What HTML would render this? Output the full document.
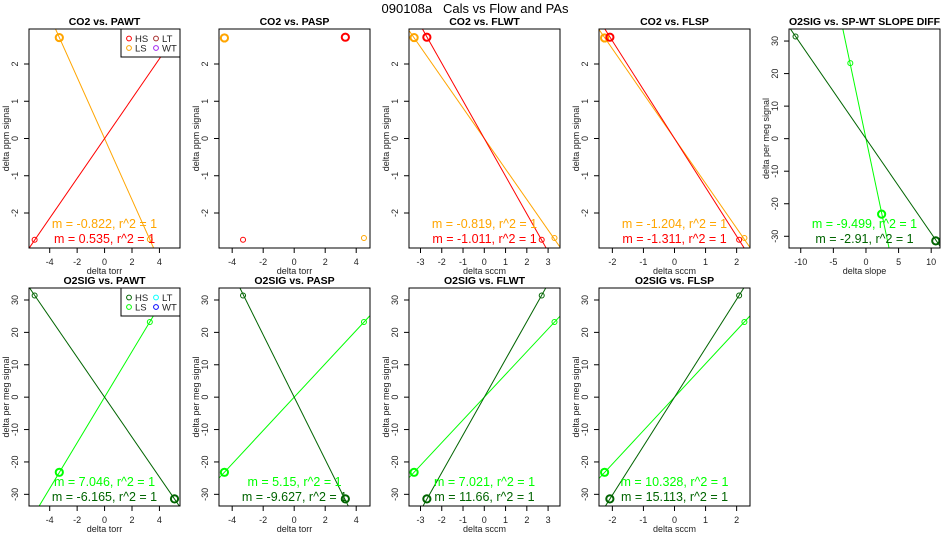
<!DOCTYPE html>
<html><head><meta charset="utf-8"><style>
html,body{margin:0;padding:0;background:#fff;overflow:hidden;width:950px;height:550px;}
svg{display:block;font-family:"Liberation Sans",Arial,sans-serif;}
</style></head><body>
<svg id="chart" width="950" height="550" xmlns="http://www.w3.org/2000/svg">
<text x="475" y="13" text-anchor="middle" font-size="13" style="white-space:pre" xml:space="preserve">090108a   Cals vs Flow and PAs</text>
</svg>
<script>
// ---- data ----
const panelTitles = ["CO2 vs. PAWT","CO2 vs. PASP","CO2 vs. FLWT","CO2 vs. FLSP","O2SIG vs. SP-WT SLOPE DIFF","O2SIG vs. PAWT","O2SIG vs. PASP","O2SIG vs. FLWT","O2SIG vs. FLSP"];
const xLabels = ["delta torr","delta torr","delta sccm","delta sccm","delta slope","delta torr","delta torr","delta sccm","delta sccm"];
const yLabels = ["delta ppm signal","delta ppm signal","delta ppm signal","delta ppm signal","delta per meg signal","delta per meg signal","delta per meg signal","delta per meg signal","delta per meg signal"];
const xLims = [[-5.51,5.5],[-4.85,4.89],[-3.54,3.56],[-2.43,2.43],[-11.8,11.35],[-5.51,5.5],[-4.85,4.89],[-3.54,3.56],[-2.43,2.43]];
const yLimsCO2 = [-2.94,2.94];
const yLimsO2 = [-33.6,33.7];
const xTicks = [[-4,-2,0,2,4],[-4,-2,0,2,4],[-3,-2,-1,0,1,2,3],[-2,-1,0,1,2],[-10,-5,0,5,10],[-4,-2,0,2,4],[-4,-2,0,2,4],[-3,-2,-1,0,1,2,3],[-2,-1,0,1,2]];
const yTicksCO2 = [-2,-1,0,1,2];
const yTicksO2 = [-30,-20,-10,0,10,20,30];
// series A (HS) and B (LS) points: [x,y,big]
const seriesA = [
 [[-5.1,-2.72,0],[5.1,2.72,0]],
 [[3.3,2.72,1],[-3.3,-2.72,0]],
 [[-2.7,2.72,1],[2.7,-2.72,0]],
 [[-2.08,2.72,1],[2.08,-2.72,0]],
 [[-10.8,31.4,0],[10.7,-31.4,1]],
 [[-5.1,31.4,0],[5.1,-31.4,1]],
 [[-3.3,31.4,0],[3.3,-31.4,1]],
 [[-2.7,-31.4,1],[2.7,31.4,0]],
 [[-2.08,-31.4,1],[2.08,31.4,0]]
];
const seriesB = [
 [[-3.3,2.71,1],[3.3,-2.71,0]],
 [[-4.5,2.7,1],[4.5,-2.67,0]],
 [[-3.3,2.71,1],[3.3,-2.67,0]],
 [[-2.25,2.7,1],[2.25,-2.67,0]],
 [[-2.4,23.2,0],[2.4,-23.2,1]],
 [[-3.3,-23.2,1],[3.3,23.2,0]],
 [[-4.5,-23.2,1],[4.5,23.2,0]],
 [[-3.3,-23.2,1],[3.3,23.2,0]],
 [[-2.25,-23.2,1],[2.25,23.2,0]]
];
const slopesA = [0.535,null,-1.011,-1.311,-2.91,-6.165,-9.627,11.66,15.113];
const slopesB = [-0.822,null,-0.819,-1.204,-9.499,7.046,5.15,7.021,10.328];
const slopeLabelsA = ["m = 0.535, r^2 = 1","","m = -1.011, r^2 = 1","m = -1.311, r^2 = 1","m = -2.91, r^2 = 1","m = -6.165, r^2 = 1","m = -9.627, r^2 = 1","m = 11.66, r^2 = 1","m = 15.113, r^2 = 1"];
const slopeLabelsB = ["m = -0.822, r^2 = 1","","m = -0.819, r^2 = 1","m = -1.204, r^2 = 1","m = -9.499, r^2 = 1","m = 7.046, r^2 = 1","m = 5.15, r^2 = 1","m = 7.021, r^2 = 1","m = 10.328, r^2 = 1"];
const legendLabels = ["HS","LS","LT","WT"];
const legendColorsTop = ["#ff0000","#ffa500","#a52a2a","#a020f0"];
const legendColorsBot = ["#006400","#00ff00","#00ffff","#0000ff"];

const NS="http://www.w3.org/2000/svg";
const svg=document.getElementById('chart');
function mk(tag,attrs,parent){const e=document.createElementNS(NS,tag);for(const k in attrs)e.setAttribute(k,attrs[k]);(parent||svg).appendChild(e);return e;}
const boxX=[29,219,409,599,789,29,219,409,599];
const boxW=151;
for(let i=0;i<9;i++){
  const top=i<5;
  const co2=i<4;
  const x0=boxX[i], x1=x0+boxW;
  const y0=top?29:288, y1=top?248:506;
  const yl=co2?yLimsCO2:yLimsO2;
  const xl=xLims[i];
  const sx=v=>x0+(v-xl[0])/(xl[1]-xl[0])*(x1-x0);
  const sy=v=>y1-(v-yl[0])/(yl[1]-yl[0])*(y1-y0);
  const colA=co2?"#ff0000":"#006400";
  const colB=co2?"#ffa500":"#00ff00";
  const g=mk('g',{});
  
  
  const cid='clip'+i;
  const cp=mk('clipPath',{id:cid},g);mk('rect',{x:x0,y:y0,width:x1-x0,height:y1-y0},cp);
  const t=mk('text',{x:(x0+x1)/2,y:y0-4,'text-anchor':'middle','font-size':10.5,'font-weight':'bold'},g);
  t.textContent=panelTitles[i];
  
  
  const xt=xTicks[i];
  mk('line',{x1:sx(xt[0]),x2:sx(xt[xt.length-1]),y1:y1,y2:y1,stroke:'#000','stroke-width':1},g);
  xt.forEach(v=>{mk('line',{x1:sx(v),x2:sx(v),y1:y1,y2:y1+5,stroke:'#000'},g);
    const tt=mk('text',{x:sx(v),y:y1+17,'text-anchor':'middle','font-size':9,fill:'#222'},g);tt.textContent=v;
    
    });
  const xlab=mk('text',{x:(x0+x1)/2,y:y1+26,'text-anchor':'middle','font-size':9,fill:'#222'},g);xlab.textContent=xLabels[i];
  
  
  const yt=co2?yTicksCO2:yTicksO2;
  yt.forEach(v=>{mk('line',{x1:x0-5,x2:x0,y1:sy(v),y2:sy(v),stroke:'#000'},g);
    const tt=mk('text',{x:x0-11,y:sy(v),'text-anchor':'middle','font-size':9,fill:'#222',transform:`rotate(-90 ${x0-11} ${sy(v)})`},g);tt.textContent=v;
    
    });
  const yc=(y0+y1)/2;
  const ylab=mk('text',{x:x0-20,y:yc,'text-anchor':'middle','font-size':9,fill:'#222',transform:`rotate(-90 ${x0-20} ${yc})`},g);ylab.textContent=yLabels[i];
  
  
  const cg=mk('g',{'clip-path':`url(#${cid})`},g);
  [[slopesB[i],colB],[slopesA[i],colA]].forEach(([m,c])=>{if(m===null)return;
    const l=mk('line',{x1:sx(xl[0]),y1:sy(m*xl[0]),x2:sx(xl[1]),y2:sy(m*xl[1]),stroke:c,'stroke-width':1},cg);
    
    });
  [[seriesB[i],colB],[seriesA[i],colA]].forEach(([pts,c])=>pts.forEach(p=>{
    const ci=mk('circle',{cx:sx(p[0]),cy:sy(p[1]),r:p[2]?3.6:2.5,fill:'none',stroke:c,'stroke-width':p[2]?2:1},cg);
    
    }));
  if(slopeLabelsB[i]){
    const a=mk('text',{x:(x0+x1)/2,y:top?228:486,'text-anchor':'middle','font-size':12.5,fill:colB},g);a.textContent=slopeLabelsB[i];
    
    
    const b=mk('text',{x:(x0+x1)/2,y:top?243:501,'text-anchor':'middle','font-size':12.5,fill:colA},g);b.textContent=slopeLabelsA[i];
    
    
  }
  if(i===0||i===5){
    const lc=top?legendColorsTop:legendColorsBot;
    const lg=mk('g',{},g);
    
    
    mk('rect',{x:121,y:y0,width:x1-121,height:28,fill:'#fff',stroke:'#000','stroke-width':1},lg);
    const pos=[[129,y0+9.5],[129,y0+19],[156,y0+9.5],[156,y0+19]];
    legendLabels.forEach((lab,k)=>{
      const e=mk('g',{},lg);
      
      
      mk('circle',{cx:pos[k][0],cy:pos[k][1],r:2.4,fill:'none',stroke:lc[k],'stroke-width':1},e);
      const tx=mk('text',{x:pos[k][0]+6,y:pos[k][1]+3.5,'font-size':9.5,fill:'#222'},e);tx.textContent=lab;
    });
  }
  mk('rect',{x:x0,y:y0,width:x1-x0,height:y1-y0,fill:'none',stroke:'#000','stroke-width':1},g);
}
</script>
</body></html>
